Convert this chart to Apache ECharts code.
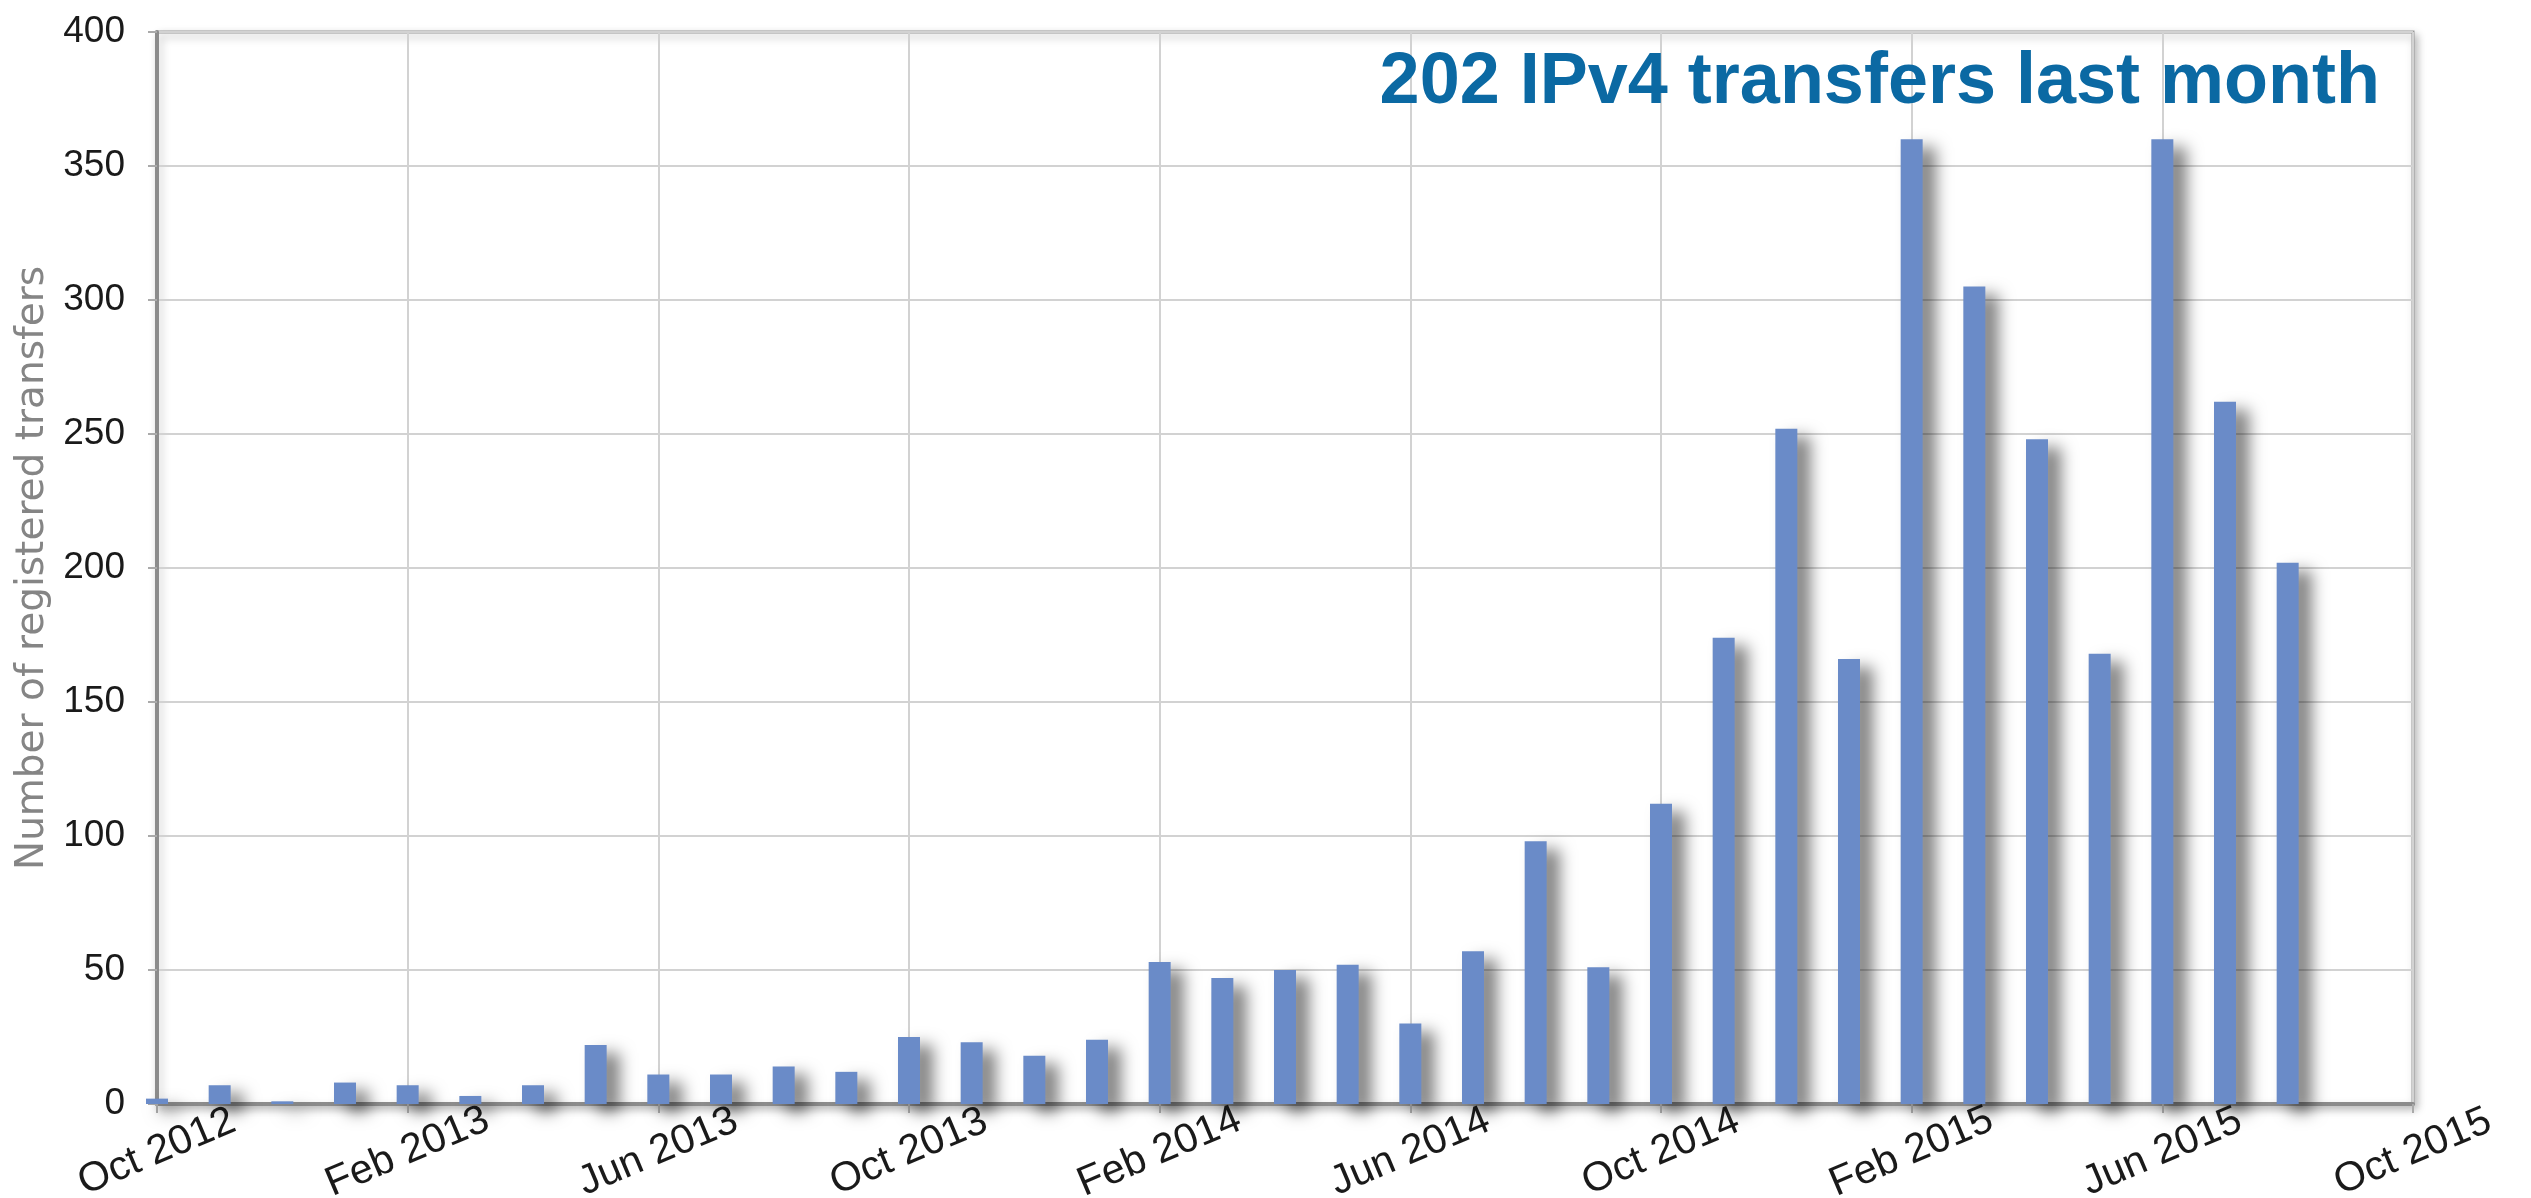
<!DOCTYPE html>
<html>
<head>
<meta charset="utf-8">
<title>IPv4 transfers</title>
<script src="https://cdn.jsdelivr.net/npm/echarts@6/dist/echarts.min.js"></script>
<style>
    html, body { margin: 0; padding: 0; background: #fff; }
    #chart { width: 2531px; height: 1198px; }
</style>
</head>
<body>
<div id="chart"></div>
<script>
    // months on the x axis (Oct 2012 .. Oct 2015)
    const months = [
        'Oct 2012', 'Nov 2012', 'Dec 2012', 'Jan 2013', 'Feb 2013', 'Mar 2013', 'Apr 2013', 'May 2013',
        'Jun 2013', 'Jul 2013', 'Aug 2013', 'Sep 2013', 'Oct 2013', 'Nov 2013', 'Dec 2013', 'Jan 2014',
        'Feb 2014', 'Mar 2014', 'Apr 2014', 'May 2014', 'Jun 2014', 'Jul 2014', 'Aug 2014', 'Sep 2014',
        'Oct 2014', 'Nov 2014', 'Dec 2014', 'Jan 2015', 'Feb 2015', 'Mar 2015', 'Apr 2015', 'May 2015',
        'Jun 2015', 'Jul 2015', 'Aug 2015', 'Sep 2015', 'Oct 2015'
    ]
    // registered transfers per month (Oct 2012 .. Aug 2015)
    const transfers = [
        2, 7, 1, 8, 7, 3, 7, 22,
        11, 11, 14, 12, 25, 23, 18, 24,
        53, 47, 50, 52, 30, 57, 98, 51,
        112, 174, 252, 166, 360, 305, 248, 168,
        360, 262, 202
    ]
    const yTicks = { min: 0, max: 400, step: 50 }
    const headline = '202 IPv4 transfers last month'
    const yName = 'Number of registered transfers'

    const chart = echarts.init(document.getElementById('chart'), null, { renderer: 'canvas' })

    const option = {
        backgroundColor: '#fff',
        animation: false,
        title: {
            text: headline,
            right: 146,
            top: 42,
            textStyle: {
                color: '#0b69a3',
                fontFamily: 'Liberation Sans',
                fontWeight: 'bold',
                fontSize: 72
            }
        },
        grid: {
            left: 157, right: 118, top: 32, bottom: 94,
            outerBoundsMode: 'none',
            show: true,
            backgroundColor: '#fff',
            borderColor: '#9a9a9a',
            borderWidth: 3,
            shadowColor: 'rgba(0,0,0,0.25)',
            shadowBlur: 8,
            shadowOffsetX: 3,
            shadowOffsetY: 4
        },
        xAxis: {
            type: 'category',
            data: months,
            boundaryGap: false,
            axisLine: { show: true, lineStyle: { color: '#8c8c8c', width: 4 } },
            axisTick: { show: true, interval: 3, length: 9, lineStyle: { color: '#aaa', width: 2 } },
            splitLine: { show: true, interval: 3, lineStyle: { color: '#d2d2d2', width: 2 } },
            axisLabel: {
                interval: 3,
                rotate: 23,
                align: 'center',
                verticalAlign: 'middle',
                margin: 48,
                color: '#1a1a1a',
                fontFamily: 'Liberation Sans',
                fontSize: 41
            }
        },
        yAxis: {
            type: 'value',
            min: yTicks.min,
            max: yTicks.max,
            interval: yTicks.step,
            name: yName,
            nameLocation: 'middle',
            nameGap: 85,
            nameTextStyle: {
                color: '#858585',
                fontFamily: 'DejaVu Sans',
                fontSize: 39
            },
            axisLine: { show: true, lineStyle: { color: '#8c8c8c', width: 4 } },
            axisTick: { show: true, length: 9, lineStyle: { color: '#aaa', width: 2 } },
            splitLine: { show: true, lineStyle: { color: '#d2d2d2', width: 2 } },
            axisLabel: {
                margin: 32,
                color: '#1a1a1a',
                fontFamily: 'Liberation Sans',
                fontSize: 37
            }
        },
        series: [{
            name: 'transfers',
            type: 'bar',
            data: transfers,
            barWidth: 22,
            itemStyle: {
                color: '#6a8bc8',
                shadowColor: 'rgba(0,0,0,0.5)',
                shadowBlur: 16,
                shadowOffsetX: 13,
                shadowOffsetY: 8
            }
        }]
    }

    chart.setOption(option)
</script>
</body>
</html>
